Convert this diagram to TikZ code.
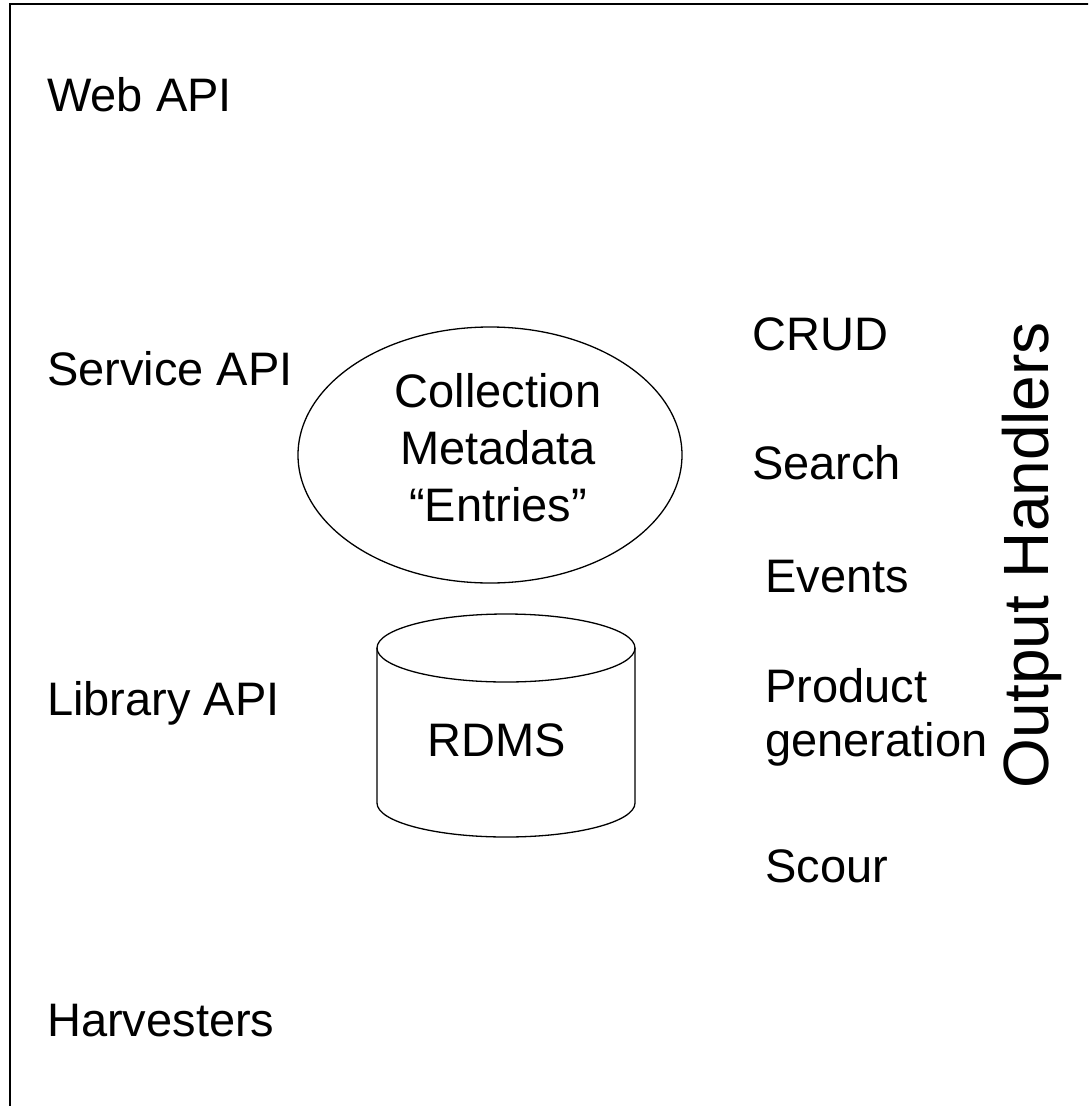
\documentclass[tikz,border=0pt]{standalone}
\usepackage{fontspec}
\setmainfont{Liberation Sans}
\begin{document}
\begin{tikzpicture}[x=1pt,y=-1pt,
  lbl/.style={anchor=base west,inner sep=0pt,font=\fontsize{47}{54}\selectfont},
  shp/.style={draw=black,line width=1.3pt}]
\useasboundingbox (0,0) rectangle (1088,1106);
\begin{scope}
\clip (0,0) rectangle (1088,1106);
\draw[line width=2pt] (10,4) rectangle (1110,1130);
\end{scope}
% labels left
\node[lbl] (web) at (47,111) {Web API};
\node[lbl] (service) at (47,385) {Service API};
\node[lbl] (library) at (47,715) {Library API};
\node[lbl] (harv) at (47,1036) {Harvesters};
% ellipse
\draw[shp] (490,455) ellipse [x radius=192, y radius=128];
\node[align=center,inner sep=0pt,font=\fontsize{47}{57}\selectfont] (coll) at (498,448) {Collection\\Metadata\\“Entries”};
% cylinder
\draw[shp,fill=white] (377,648) -- (377,803) arc[start angle=180,end angle=0,x radius=129,y radius=34] -- (635,648);
\draw[shp] (506,648) ellipse [x radius=129, y radius=34];
\node[inner sep=0pt,font=\fontsize{47}{54}\selectfont] (rdms) at (497,740) {RDMS};
% right labels
\node[lbl] (crud) at (752,350) {CRUD};
\node[lbl] (search) at (752,479) {Search};
\node[lbl] (events) at (765,592) {Events};
\node[lbl,align=left,anchor=north west] (prod) at (765,668) {Product\\generation};
\node[lbl] (scour) at (765,882) {Scour};
\node[rotate=90,inner sep=0pt,font=\fontsize{64}{70}\selectfont] (out) at (1032,555) {Output Handlers};
\end{tikzpicture}
\end{document}
